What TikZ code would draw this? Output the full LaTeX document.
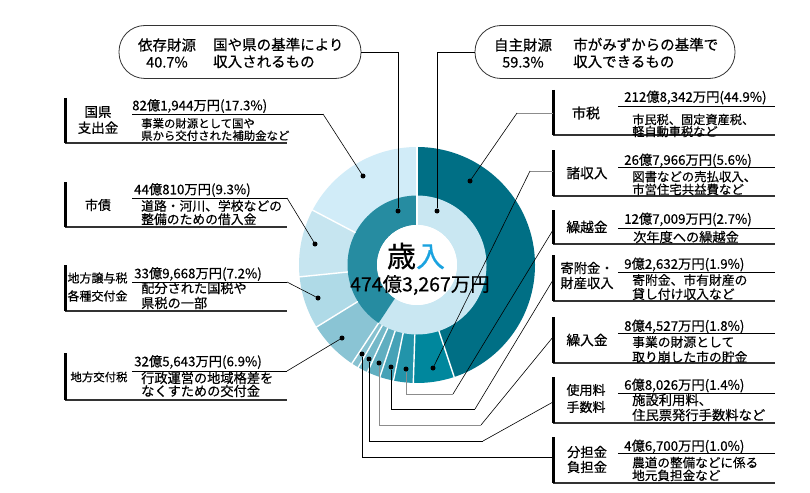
\documentclass[tikz,border=0pt]{standalone}
\usepackage{fontspec}
\setmainfont{Noto Sans CJK JP}[FakeBold=0.4]
\definecolor{cST}{HTML}{006F85}
\definecolor{cSY}{HTML}{00879D}
\definecolor{cKR}{HTML}{2294AA}
\definecolor{cKH}{HTML}{46A2B7}
\definecolor{cKN}{HTML}{60AEC0}
\definecolor{cSR}{HTML}{74B8C8}
\definecolor{cBT}{HTML}{86C1D0}
\definecolor{cKF}{HTML}{8AC4D4}
\definecolor{cJY}{HTML}{AFDAE7}
\definecolor{cSS}{HTML}{C6E5F0}
\definecolor{cKK}{HTML}{D1ECF8}
\definecolor{cIZ}{HTML}{268CA1}
\definecolor{cJS}{HTML}{C9E7F2}
\definecolor{cNyu}{HTML}{1AA3E0}
\definecolor{cBase}{HTML}{333333}
\newcommand\donutseg[5]{\fill[#5] (#1:#4) arc[start angle=#1,end angle=#2,radius=#4] -- (#2:#3) arc[start angle=#2,end angle=#1,radius=#3] -- cycle;}
\newcommand\fs[2]{\fontsize{#1}{#2}\selectfont}
\begin{document}
\begin{tikzpicture}[x=1pt,y=-1pt,
  barline/.style={line width=3pt,black},
  baseline/.style={line width=1.6pt,cBase},
  uline/.style={line width=0.9pt,black},
  leader/.style={line width=0.6pt,black},
  gleader/.style={line width=0.8pt,black!45},
  dot/.style={circle,fill=black,inner sep=0,minimum size=5pt},
  amt/.style={anchor=west,inner sep=0,font=\fs{13.3}{15}},
  desc/.style={anchor=west,inner sep=0,align=left},
  ttl/.style={inner sep=0,align=center},
  pill/.style={draw=black!80,line width=0.8pt,rounded corners=26pt,inner sep=0},
  ctext/.style={inner sep=0,align=center,font=\fs{14.5}{17}},
  ctextl/.style={anchor=west,inner sep=0,align=left,font=\fs{14.5}{17}}]
\useasboundingbox (0,0) rectangle (810,492);
\fill[white] (0,0) rectangle (810,492);
% ---------------- donut ----------------
\begin{scope}[shift={(417,265)},y=1pt]
  \donutseg{90}{-71.64}{69}{118}{cST}
  \donutseg{-71.64}{-91.80}{69}{118}{cSY}
  \donutseg{-91.80}{-101.52}{69}{118}{cKR}
  \donutseg{-101.52}{-108.36}{69}{118}{cKH}
  \donutseg{-108.36}{-114.84}{69}{118}{cKN}
  \donutseg{-114.84}{-119.88}{69}{118}{cSR}
  \donutseg{-119.88}{-123.48}{69}{118}{cBT}
  \donutseg{-123.48}{-148.32}{69}{118}{cKF}
  \donutseg{-148.32}{-174.24}{69}{118}{cJY}
  \donutseg{-174.24}{-207.72}{69}{118}{cSS}
  \donutseg{-207.72}{-270}{69}{118}{cKK}
  \donutseg{90}{-123.48}{40}{69.5}{cJS}
  \donutseg{-123.48}{-270}{40}{69.5}{cIZ}
  \foreach \b in {-71.64,-91.80,-101.52,-108.36,-114.84,-119.88,-123.48,-148.32,-174.24,-207.72}
    \draw[white,line width=1.4pt] (\b:69.5) -- (\b:118.5);
  \draw[white,line width=1.4pt] (90:40) -- (90:118.5);
  \fill[white] (0,0) circle[radius=40];
\end{scope}
\node[inner sep=0,font=\fs{29}{32}] (sainyu) at (416,256) {歳\textcolor{cNyu}{入}};
\node[inner sep=0,font=\fs{19.5}{22}] (total) at (420,285) {474億3,267万円};
% ---------------- dots ----------------
\node[dot] (dKK) at (363,176) {};
\node[dot] (dSS) at (315,244) {};
\node[dot] (dJY) at (318,298) {};
\node[dot] (dKF) at (342,338) {};
\node[dot] (dIZ) at (398,211) {};
\node[dot] (dJS) at (437,211) {};
\node[dot] (dST) at (470,181) {};
\node[dot] (dSY) at (433,368) {};
\node[dot] (dKR) at (406,369) {};
\node[dot] (dKH) at (391,367) {};
\node[dot] (dKN) at (379,363) {};
\node[dot] (dSR) at (369,359) {};
\node[dot] (dBT) at (362,354) {};
% ---------------- callouts ----------------
\node[pill,minimum width=242pt,minimum height=53pt] (pIZ) at (240,52) {};
\node[ctext] (tIZ) at (167,53) {依存財源\\40.7\%};
\node[ctextl] (tIZd) at (213,53) {国や県の基準により\\収入されるもの};
\node[pill,minimum width=260pt,minimum height=53pt] (pJS) at (605,52) {};
\node[ctext] (tJS) at (523,53) {自主財源\\59.3\%};
\node[ctextl] (tJSd) at (573,53) {市がみずからの基準で\\収入できるもの};
\coordinate (cIZ) at (398,52);
\coordinate (cJS) at (437,52);
\draw[leader,line width=0.9pt] (pIZ.east) -- (cIZ) -- (dIZ);
\draw[leader,line width=0.9pt] (pJS.west) -- (cJS) -- (dJS);
% ---------------- left blocks ----------------
% 国県支出金
\coordinate (bKKt) at (65,98); \coordinate (bKKb) at (65,143); \coordinate (bKKe) at (287,143);
\draw[baseline] (bKKb) -- (bKKe);
\draw[barline] (bKKt) -- (bKKb);
\node[ttl,font=\fs{13.5}{16}] (ttKK) at (98,120) {国県\\支出金};
\node[amt] (aKK) at (132,106) {82億1,944万円(17.3\%)};
\node[desc,font=\fs{11.4}{12.3}] (xKK) at (141,129.5) {事業の財源として国や\\県から交付された補助金など};
\coordinate (uKK1) at (132,114); \coordinate (uKK2) at (323,114);
\draw[uline] (uKK1) -- (uKK2);
\draw[leader] (uKK2) -- (dKK);
% 市債
\coordinate (bSSt) at (65,182); \coordinate (bSSb) at (65,227); \coordinate (bSSe) at (287,227);
\draw[baseline] (bSSb) -- (bSSe);
\draw[barline] (bSSt) -- (bSSb);
\node[ttl,font=\fs{13}{16}] (ttSS) at (98,205) {市債};
\node[amt] (aSS) at (134,190) {44億810万円(9.3\%)};
\node[desc,font=\fs{12.8}{13.3}] (xSS) at (141,212.5) {道路・河川、学校などの\\整備のための借入金};
\coordinate (uSS1) at (132,198); \coordinate (uSS2) at (287,198);
\draw[uline] (uSS1) -- (uSS2);
\draw[leader] (uSS2) -- (dSS);
% 地方譲与税
\coordinate (bJYt) at (65,265); \coordinate (bJYb) at (65,311); \coordinate (bJYe) at (287,311);
\draw[baseline] (bJYb) -- (bJYe);
\draw[barline] (bJYt) -- (bJYb);
\node[ttl,font=\fs{12}{18}] (ttJY) at (97.5,287) {地方譲与税\\各種交付金};
\node[amt] (aJY) at (134,274) {33億9,668万円(7.2\%)};
\node[desc,font=\fs{13.2}{15}] (xJY) at (141,295.5) {配分された国税や\\県税の一部};
\coordinate (uJY1) at (132,282); \coordinate (uJY2) at (287,282);
\draw[uline] (uJY1) -- (uJY2);
\draw[leader] (uJY2) -- (dJY);
% 地方交付税
\coordinate (bKFt) at (65,353); \coordinate (bKFb) at (65,400); \coordinate (bKFe) at (287,400);
\draw[baseline] (bKFb) -- (bKFe);
\draw[barline] (bKFt) -- (bKFb);
\node[ttl,font=\fs{11.4}{14}] (ttKF) at (99,377) {地方交付税};
\node[amt] (aKF) at (134,362) {32億5,643万円(6.9\%)};
\node[desc,font=\fs{13.2}{13}] (xKF) at (141,384.5) {行政運営の地域格差を\\なくすための交付金};
\coordinate (uKF1) at (132,371); \coordinate (uKF2) at (287,371);
\draw[uline] (uKF1) -- (uKF2);
\draw[leader] (uKF2) -- (dKF);
% ---------------- right blocks ----------------
% 市税
\coordinate (bSTt) at (553,90); \coordinate (bSTb) at (553,135); \coordinate (bSTe) at (775,135);
\draw[baseline] (bSTb) -- (bSTe);
\draw[barline] (bSTt) -- (bSTb);
\node[ttl,font=\fs{14}{16}] (ttST) at (586,113) {市税};
\node[amt] (aST) at (624,97.5) {212億8,342万円(44.9\%)};
\node[desc,font=\fs{12.2}{12}] (xST) at (632,125.5) {市民税、固定資産税、\\軽自動車税など};
\coordinate (uST1) at (618,106); \coordinate (uST2) at (775,106);
\draw[uline] (uST1) -- (uST2);
\coordinate (aSTl) at (553,113); \coordinate (kST) at (517,113);
\draw[gleader] (aSTl) -- (kST);
\draw[leader] (kST) -- (dST);
% 諸収入
\coordinate (bSYt) at (553,150); \coordinate (bSYb) at (553,196); \coordinate (bSYe) at (775,196);
\draw[baseline] (bSYb) -- (bSYe);
\draw[barline] (bSYt) -- (bSYb);
\node[ttl,font=\fs{13.7}{16}] (ttSY) at (587,173) {諸収入};
\node[amt] (aSY) at (624,160.5) {26億7,966万円(5.6\%)};
\node[desc,font=\fs{12.4}{12.8}] (xSY) at (632,183) {図書などの売払収入、\\市営住宅共益費など};
\coordinate (uSY1) at (618,167); \coordinate (uSY2) at (775,167);
\draw[uline] (uSY1) -- (uSY2);
\coordinate (aSYl) at (553,171); \coordinate (kSY) at (530,171);
\draw[gleader] (aSYl) -- (kSY);
\draw[leader] (kSY) -- (dSY);
% 繰越金
\coordinate (bKRt) at (553,210); \coordinate (bKRb) at (553,244); \coordinate (bKRe) at (775,244);
\draw[baseline] (bKRb) -- (bKRe);
\draw[barline] (bKRt) -- (bKRb);
\node[ttl,font=\fs{13.7}{16}] (ttKR) at (587,227) {繰越金};
\node[amt] (aKR) at (624,219.5) {12億7,009万円(2.7\%)};
\node[desc,font=\fs{13.2}{14}] (xKR) at (633,237) {次年度への繰越金};
\coordinate (uKR1) at (618,228); \coordinate (uKR2) at (775,228);
\draw[uline] (uKR1) -- (uKR2);
\coordinate (aKRl) at (553,230); \coordinate (kKR) at (453,394);
\draw[leader] (aKRl) -- (kKR);
\draw[gleader] (kKR) -| (dKR);
% 寄附金・財産収入
\coordinate (bKHt) at (553,255); \coordinate (bKHb) at (553,301); \coordinate (bKHe) at (775,301);
\draw[baseline] (bKHb) -- (bKHe);
\draw[barline] (bKHt) -- (bKHb);
\node[ttl,font=\fs{13.3}{15}] (ttKH) at (587,275.5) {寄附金・\\財産収入};
\node[amt] (aKH) at (624,264.5) {9億2,632万円(1.9\%)};
\node[desc,font=\fs{12.8}{14}] (xKH) at (632,287) {寄附金、市有財産の\\貸し付け収入など};
\coordinate (uKH1) at (618,272); \coordinate (uKH2) at (775,272);
\draw[uline] (uKH1) -- (uKH2);
\coordinate (aKHl) at (553,280); \coordinate (kKH) at (475,409);
\draw[leader] (aKHl) -- (kKH);
\draw[leader] (kKH) -| (dKH);
% 繰入金
\coordinate (bKNt) at (553,317); \coordinate (bKNb) at (553,363); \coordinate (bKNe) at (775,363);
\draw[baseline] (bKNb) -- (bKNe);
\draw[barline] (bKNt) -- (bKNb);
\node[ttl,font=\fs{13.7}{16}] (ttKN) at (587,340) {繰入金};
\node[amt] (aKN) at (624,326.5) {8億4,527万円(1.8\%)};
\node[desc,font=\fs{12.8}{15}] (xKN) at (632,349.5) {事業の財源として\\取り崩した市の貯金};
\coordinate (uKN1) at (618,333); \coordinate (uKN2) at (775,333);
\draw[uline] (uKN1) -- (uKN2);
\coordinate (aKNl) at (553,337); \coordinate (kKN) at (481,425);
\draw[leader] (aKNl) -- (kKN);
\draw[gleader] (kKN) -| (dKN);
% 使用料・手数料
\coordinate (bSRt) at (553,377); \coordinate (bSRb) at (553,423); \coordinate (bSRe) at (775,423);
\draw[baseline] (bSRb) -- (bSRe);
\draw[barline] (bSRt) -- (bSRb);
\node[ttl,font=\fs{13}{17}] (ttSR) at (586,398.5) {使用料\\手数料};
\node[amt] (aSR) at (624,385.5) {6億8,026万円(1.4\%)};
\node[desc,font=\fs{13.3}{15}] (xSR) at (632,407.5) {施設利用料、\\住民票発行手数料など};
\coordinate (uSR1) at (618,393); \coordinate (uSR2) at (775,393);
\draw[uline] (uSR1) -- (uSR2);
\coordinate (aSRl) at (553,402); \coordinate (kSR) at (483,441);
\draw[leader] (aSRl) -- (kSR);
\draw[leader] (kSR) -| (dSR);
% 分担金・負担金
\coordinate (bBTt) at (553,437); \coordinate (bBTb) at (553,483); \coordinate (bBTe) at (775,483);
\draw[baseline] (bBTb) -- (bBTe);
\draw[barline] (bBTt) -- (bBTb);
\node[ttl,font=\fs{13.3}{15}] (ttBT) at (587,459.5) {分担金\\負担金};
\node[amt] (aBT) at (624,446.5) {4億6,700万円(1.0\%)};
\node[desc,font=\fs{12.6}{12.8}] (xBT) at (632,469) {農道の整備などに係る\\地元負担金など};
\coordinate (uBT1) at (618,453); \coordinate (uBT2) at (775,453);
\draw[uline] (uBT1) -- (uBT2);
\coordinate (aBTl) at (553,457);
\draw[leader] (aBTl) -| (dBT);
\end{tikzpicture}
\end{document}
